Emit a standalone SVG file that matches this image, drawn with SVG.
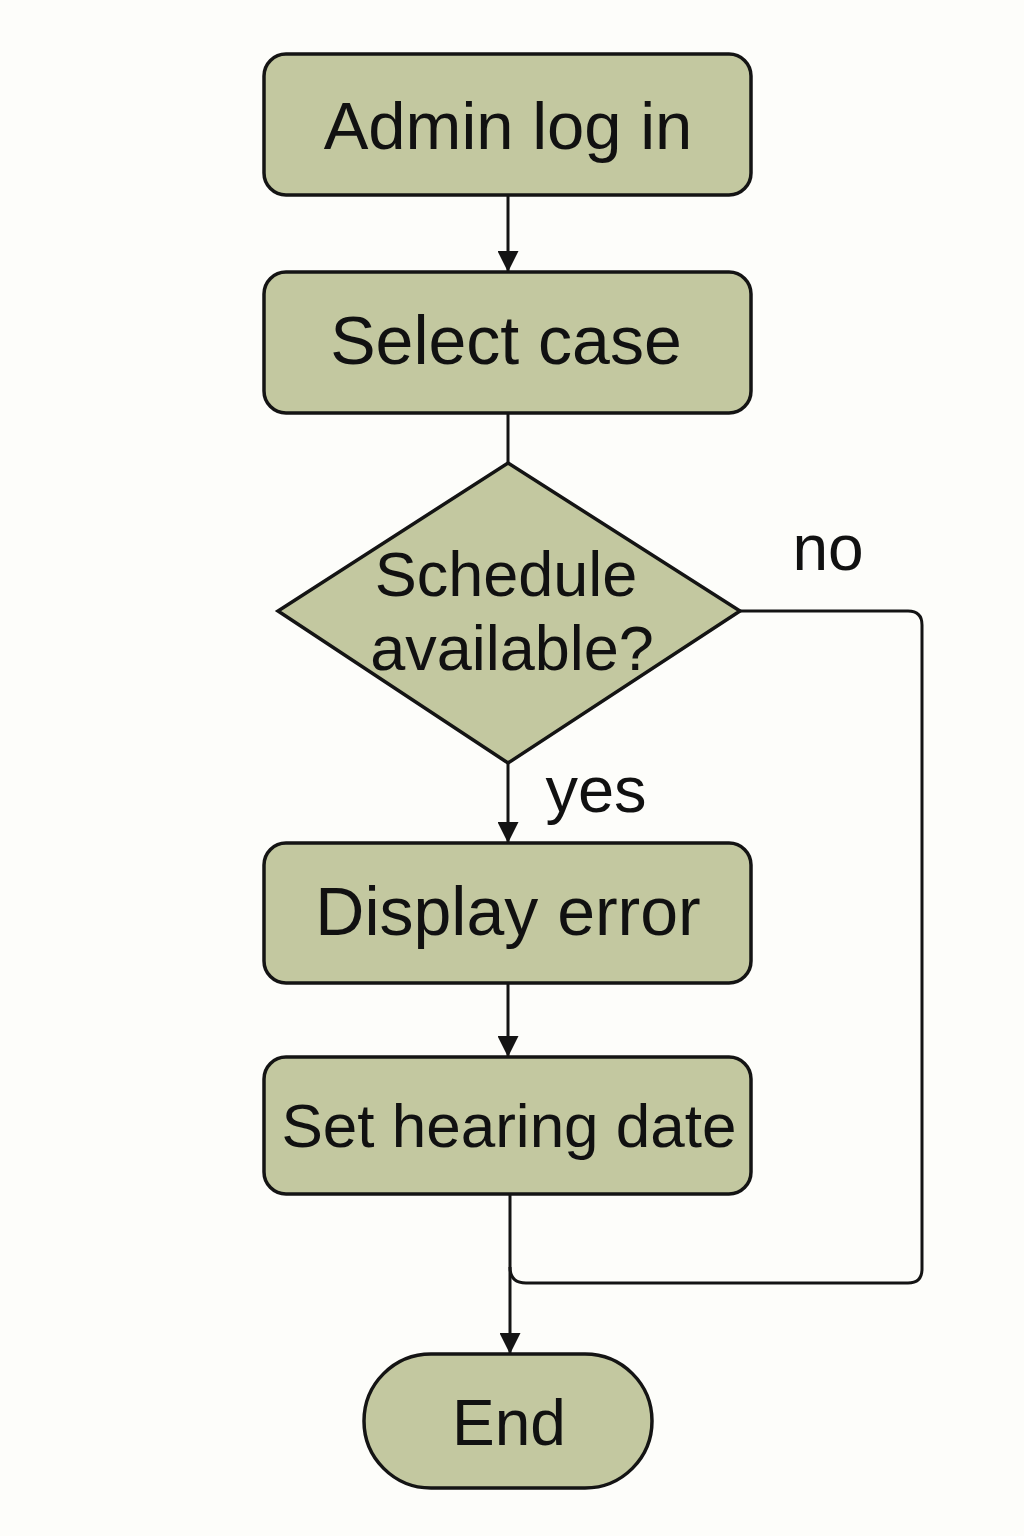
<svg xmlns="http://www.w3.org/2000/svg" width="1024" height="1536" viewBox="0 0 1024 1536">
<defs>
<style>
.shape{fill:#c3c8a0;stroke:#141414;stroke-width:3.5}
.lbl{font-family:"Liberation Sans",Arial,sans-serif;fill:#111;text-anchor:middle}
.edge{fill:none;stroke:#141414;stroke-width:3}
</style>
<marker id="arr" viewBox="0 0 20 20" refX="20" refY="10" markerWidth="21" markerHeight="21" markerUnits="userSpaceOnUse" orient="auto">
<path d="M0,0 L20,10 L0,20 Z" fill="#141414"/>
</marker>
</defs>
<rect width="1024" height="1536" fill="#fdfdfa"/>
<g id="connectors">
<line class="edge" x1="508" y1="195" x2="508" y2="272" marker-end="url(#arr)"/>
<line class="edge" x1="508" y1="413" x2="508" y2="463"/>
<line class="edge" x1="508" y1="763" x2="508" y2="843" marker-end="url(#arr)"/>
<line class="edge" x1="508" y1="983" x2="508" y2="1057" marker-end="url(#arr)"/>
<line class="edge" x1="510" y1="1194" x2="510" y2="1354" marker-end="url(#arr)"/>
<path class="edge" d="M740 611 H908 Q922 611 922 625 V1269 Q922 1283 908 1283 H526 Q510 1283 510 1267"/>
<text class="lbl" x="828" y="570" font-size="64">no</text>
<text class="lbl" x="596" y="812" font-size="65">yes</text>
</g>
<g id="admin-log-in">
<rect class="shape" x="264" y="54" width="487" height="141" rx="22"/>
<text class="lbl" x="508" y="149" font-size="67">Admin log in</text>
</g>
<g id="select-case">
<rect class="shape" x="264" y="272" width="487" height="141" rx="22"/>
<text class="lbl" x="506" y="364" font-size="68">Select case</text>
</g>
<g id="schedule-available">
<polygon class="shape" points="508,463 740,611 508,763 278,611"/>
<text class="lbl" x="506" y="596" font-size="63">Schedule</text>
<text class="lbl" x="512" y="670" font-size="63">available?</text>
</g>
<g id="display-error">
<rect class="shape" x="264" y="843" width="487" height="140" rx="22"/>
<text class="lbl" x="508" y="935" font-size="68">Display error</text>
</g>
<g id="set-hearing-date">
<rect class="shape" x="264" y="1057" width="487" height="137" rx="22"/>
<text class="lbl" x="509" y="1147" font-size="62">Set hearing date</text>
</g>
<g id="end">
<rect class="shape" x="364" y="1354" width="288" height="134" rx="67"/>
<text class="lbl" x="509" y="1445" font-size="64">End</text>
</g>
</svg>
